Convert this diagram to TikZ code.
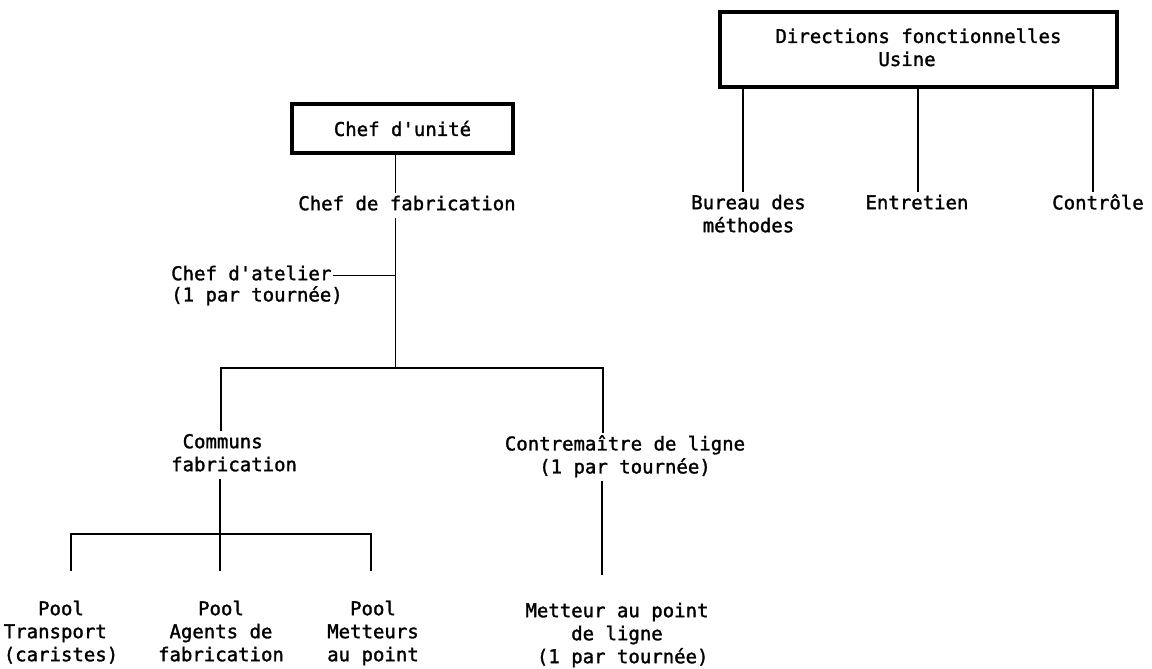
\documentclass[tikz,border=0pt]{standalone}
\usepackage{fontspec}
\setmonofont{DejaVu Sans Mono}[FakeBold=1.5]
\newcommand\st{\rule[-5pt]{0pt}{20pt}}
\tikzset{
  lbl/.style={font=\ttfamily\fontsize{19}{23}\selectfont, inner xsep=1pt, inner ysep=2.5pt, align=center},
  headbox/.style={draw, line width=3.2pt, font=\ttfamily\fontsize{19}{23}\selectfont, align=center},
  link/.style={line width=1.3pt},
}
\begin{document}
\begin{tikzpicture}[x=1pt, y=-1pt]
\useasboundingbox (0,0) rectangle (1152,669);

% production line hierarchy
\node[headbox, minimum width=221pt, minimum height=49pt] (unite) at (402.5,128.5) {Chef d'unité};
\node[lbl, anchor=north] (fab) at (407,192.5) {\st Chef de fabrication};
\node[lbl, anchor=north west] (atelier) at (170,262.5) {\st Chef d'atelier};
\node[lbl, anchor=north west] (atelierb) at (170,283.5) {\st(1 par tournée)};
\node[lbl, anchor=north west, align=left] (commun) at (170,430.5) {\st\phantom{x}Communs\\\st fabrication};
\node[lbl, anchor=north] (contre) at (625,432.5) {\st Contremaître de ligne\\\st(1 par tournée)};
\node[lbl, anchor=north] (pool1) at (61,597.5) {\st Pool\\\st Transport\phantom{x}\\\st(caristes)};
\node[lbl, anchor=north] (pool2) at (221,597.5) {\st Pool\\\st Agents de\\\st fabrication};
\node[lbl, anchor=north] (pool3) at (373,597.5) {\st Pool\\\st Metteurs\\\st au point};
\node[lbl, anchor=north] (metteur) at (617,599.5) {\st Metteur au point\\\st de ligne\\\st\phantom{x}(1 par tournée)};

\coordinate (t1) at (395.5,368);
\coordinate (b1) at (221,368);
\coordinate (b2) at (603,368);
\coordinate (j2) at (220,534);
\coordinate (c1) at (71,534);
\coordinate (c3) at (371,534);

\draw[link] (t1 |- unite.south) -- (t1 |- fab.north);
\draw[link] (t1 |- fab.south) -- (t1);
\draw[link] (atelier.east) -- (atelier.east -| t1);
\draw[link] (b1 |- commun.north) -- (b1) -- (b2) -- (b2 |- contre.north);
\draw[link] (j2 |- commun.south) -- (j2);
\draw[link, shorten >=26.5pt] (j2) -- (j2 |- pool2.north);
\draw[link, shorten <=26.5pt, shorten >=26.5pt] (c1 |- pool1.north) -- (c1) -- (c3) -- (c3 |- pool3.north);
\draw[link, shorten >=24.5pt] ([xshift=-1pt]b2 |- contre.south) -- ([xshift=-1pt]b2 |- metteur.north);

% functional departments
\node[headbox, minimum width=397pt, minimum height=75pt] (dir) at (918.5,49.5) {\st Directions fonctionnelles\\\st Usine\phantom{xx}};
\node[lbl, anchor=north] (bureau) at (748.5,191.5) {\st Bureau des\\\st méthodes};
\node[lbl, anchor=north] (entretien) at (917,191.5) {\st Entretien};
\node[lbl, anchor=north] (controle) at (1098,191.5) {\st Contrôle};

\draw[link] ([xshift=-5.5pt]bureau.north |- dir.south) -- ([xshift=-5.5pt]bureau.north);
\draw[link] ([xshift=1pt]entretien.north |- dir.south) -- ([xshift=1pt]entretien.north);
\draw[link] ([xshift=-5pt]controle.north |- dir.south) -- ([xshift=-5pt]controle.north);
\end{tikzpicture}
\end{document}
